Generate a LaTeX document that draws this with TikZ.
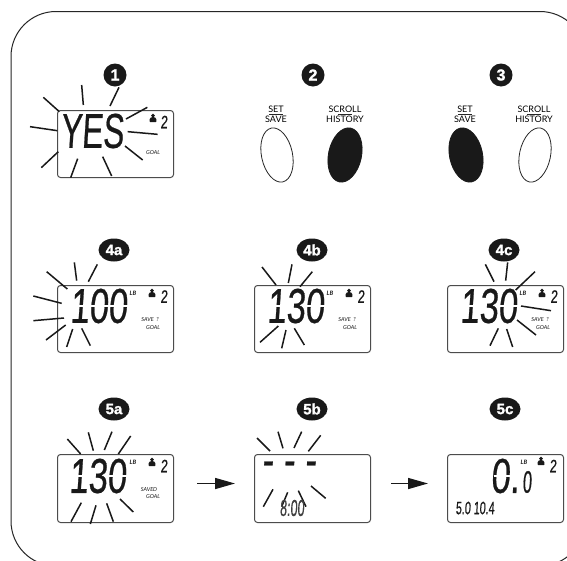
\documentclass[tikz,border=0pt]{standalone}
\usepackage{fontspec}
\usetikzlibrary{arrows.meta,shapes.geometric}
\setmainfont{Lato}
\newfontfamily\lcdfont[FakeSlant=0.07,FakeStretch=0.7,FakeBold=0.5]{Liberation Sans}
\newfontfamily\badgefont[BoldFeatures={FakeBold=1.5}]{Liberation Sans}
\newcommand{\lcdsize}[1]{\fontsize{#1}{#1}\lcdfont}
\tikzset{
  frameline/.style={draw=black!85,line width=1pt},
  display/.style={draw=black!70,line width=1pt,rounded corners=3pt,anchor=north west,minimum width=116pt,minimum height=67pt,inner sep=0pt},
  burstline/.style={draw=black!90,line width=1.5pt},
  digits/.style={inner sep=0pt,font=\lcdsize{49},text=black!90},
  usernum/.style={inner sep=0pt,font=\lcdsize{18},text=black!90},
  tiny/.style={inner sep=0pt,font=\fontsize{5.5}{5.5}\selectfont\itshape,text=black!90},
  unitlabel/.style={inner sep=0pt,font=\fontsize{6}{6}\selectfont\itshape\bfseries,text=black!90},
  badge/.style={fill=black!90,text=white,circle,minimum size=23pt,inner sep=0pt,font=\fontsize{16}{16}\badgefont\bfseries},
  badgewide/.style={fill=black!90,text=white,ellipse,minimum width=31pt,minimum height=23pt,inner sep=0pt,font=\fontsize{15}{15}\badgefont\bfseries},
  btnlabel/.style={inner sep=0pt,font=\fontsize{9}{9}\selectfont,text=black},
  btnrule/.style={draw=black!85,line width=1pt},
  btnoff/.style={ellipse,draw=black!85,line width=0.8pt,fill=white,minimum width=31pt,minimum height=55pt,inner sep=0pt},
  btnon/.style={ellipse,draw=black!90,line width=0.8pt,fill=black!90,minimum width=33pt,minimum height=55pt,inner sep=0pt},
  flowarrow/.style={draw=black!90,line width=1.5pt,-{Triangle[length=20pt,width=11pt]}},
  segmentgap/.style={fill=white},
  person/.pic={
    \fill[black!90] (0,-2.4) circle (1.9);
    \fill[black!90,rounded corners=1pt] (-3.6,4.2) -- (-3.2,0.2) -- (-1.5,-0.9) -- (1.5,-0.9) -- (3.2,0.2) -- (3.6,4.2) -- cycle;
  }
}
\newcommand{\burst}[3]{%
  \begin{scope}[shift={(#1,#2)},x=0.33333pt,y=-0.33333pt]
    \foreach \xa/\ya/\xb/\yb in {#3}{\draw[burstline] (\xa,\ya) -- (\xb,\yb);}
  \end{scope}}
% white slit across the digits listed, giving the segmented look: #1 = text centre x, #2 = y, #3 = offsets
\newcommand{\slits}[3]{\foreach \off in {#3}{\fill[segmentgap] (#1+\off-10,#2-0.6) rectangle (#1+\off+10,#2+0.6);}}
\newcommand{\buttonlabels}[5]{%
  \node[btnlabel] (#1t) at (#2,109) {#3};
  \node[btnlabel] (#1b) at (#2,119.5) {#4};
  \draw[btnrule] ([xshift=-7pt,yshift=-5pt]#2,109) -- ([xshift=7pt,yshift=-5pt]#2,109);}
\begin{document}
\begin{tikzpicture}[x=1pt,y=-1pt]
\useasboundingbox (0,0) rectangle (567,560);
\clip (0,0) rectangle (567,560);
\fill[white] (0,0) rectangle (567,560);
\draw[frameline,rounded corners=45pt] (11,11.5) rectangle (585,566);

% row 1
\node[badge] (b1) at (115,75) {1};
\node[badge] (b2) at (313,75) {2};
\node[badge] (b3) at (501,75) {3};
\node[display] (d1) at (57,110) {};
\begin{scope}[shift={(57,110)}]
  \node[digits] (t1) at (35,21) {\scalebox{0.92}[1]{YES}};
  \pic at (96,8) {person};
  \node[usernum] (u1) at (107,12) {2};
  \node[tiny] (g1) at (96,43) {GOAL};
\end{scope}
\burst{0}{60}{130/112/178/155,245/75/250/135,357/82/330/138,442/142/378/177,383/215/473/223,375/258/428/300,308/290/335/348,233/296/212/353,175/275/124/323,90/200/172/212}

\buttonlabels{l2a}{276}{SET}{SAVE}{}
\buttonlabels{l2b}{345}{SCROLL}{HISTORY}{}
\node[btnoff,rotate=12] (k2a) at (277,155) {};
\node[btnon,rotate=-12] (k2b) at (345,155) {};
\buttonlabels{l3a}{465}{SET}{SAVE}{}
\buttonlabels{l3b}{534}{SCROLL}{HISTORY}{}
\node[btnon,rotate=12] (k3a) at (466,155) {};
\node[btnoff,rotate=-12] (k3b) at (535,155) {};

% row 2
\node[badgewide] (b4a) at (114,250) {4a};
\node[badgewide] (b4b) at (312,250) {4b};
\node[badgewide] (b4c) at (504,250) {4c};
\foreach \nm/\ox/\val in {a/57/100,b/254/130,c/447/130}{
  \node[display] (d4\nm) at (\ox,285) {};
  \begin{scope}[shift={(\ox,285)}]
    \node[digits] (t4\nm) at (41.5,21) {\val};
    \node[unitlabel] (lb4\nm) at (76,8) {LB};
    \pic at (95,8) {person};
    \node[usernum] (u4\nm) at (107,11.5) {2};
    \node[tiny] (s4\nm) at (93,35) {SAVE\ \ ?};
    \node[tiny] (g4\nm) at (96,43) {GOAL};
  \end{scope}
}
\slits{98.5}{306}{-19,0,19}
\slits{295.5}{306}{-19,19}
\slits{488.5}{306}{-19,19}
\burst{10}{225}{110/140/172/192,193/112/200/167,262/118/235/170,70/213/155/235,70/287/162/279,108/345/167/300,188/312/170/366,215/310/241/362}
\burst{200}{225}{186/126/228/180,276/118/265/174,337/140/300/185,180/352/235/303,258/315/245/370,283/310/313/360}
\burst{385}{225}{301/118/327/170,368/112/362/167,450/140/392/195,408/243/498/257,396/285/453/330,340/310/315/362,365/312/383/366}

% row 3
\node[badgewide] (b5a) at (114,409) {5a};
\node[badgewide] (b5b) at (312,409) {5b};
\node[badgewide] (b5c) at (505,409) {5c};
\node[display,minimum height=68pt] (d5a) at (57,454) {};
\node[display,minimum height=68pt] (d5b) at (254,454) {};
\node[display,minimum height=68pt] (d5c) at (447,454) {};
\begin{scope}[shift={(57,454)}]
  \node[digits] (t5a) at (40.5,22) {130};
  \node[unitlabel] (lb5a) at (76,8) {LB};
  \pic at (95,8) {person};
  \node[usernum] (u5a) at (107,12) {2};
  \node[tiny] (s5a) at (92,36) {SAVED};
  \node[tiny] (g5a) at (96,43) {GOAL};
\end{scope}
\slits{97.5}{476}{-19,19}
\burst{20}{380}{142/177/182/222,205/157/220/212,276/155/253/210,332/168/295/222,184/368/153/425,228/376/211/432,260/370/280/425,300/357/340/396}

\node[digits] (t5b) at (289,469) {-\hspace{10pt}-\hspace{10pt}-};
\burst{205}{380}{156/174/195/213,219/155/234/205,290/155/267/204,347/166/310/214,204/328/175/380,248/337/230/380,280/332/303/380,318/318/362/355}
\node[inner sep=0pt,font=\lcdsize{23},text=black!75] (c5b) at (292,508) {\scalebox{0.78}[1]{8:00}};

\node[digits] (t5c) at (505,476) {0.\hspace{-7pt}};
\fill[segmentgap] (494,475.4) rectangle (514,476.6);
\node[inner sep=0pt,font=\lcdsize{31},text=black!90] (t5d) at (527,482) {\scalebox{0.75}[1]{0}};
\node[unitlabel] (lb5c) at (524,462) {LB};
\pic at (541,461) {person};
\node[usernum] (u5c) at (553,466) {2};
\node[inner sep=0pt,font=\lcdsize{18},text=black!90] (h5c) at (475,508) {\scalebox{0.85}[1]{5.0 10.4}};

% arrows
\draw[flowarrow] ([xshift=23pt,yshift=5pt]d5a.east) -- ([xshift=-19pt,yshift=5pt]d5b.west);
\draw[flowarrow] ([xshift=20pt,yshift=5pt]d5b.east) -- ([xshift=-19pt,yshift=5pt]d5c.west);
\end{tikzpicture}
\end{document}
